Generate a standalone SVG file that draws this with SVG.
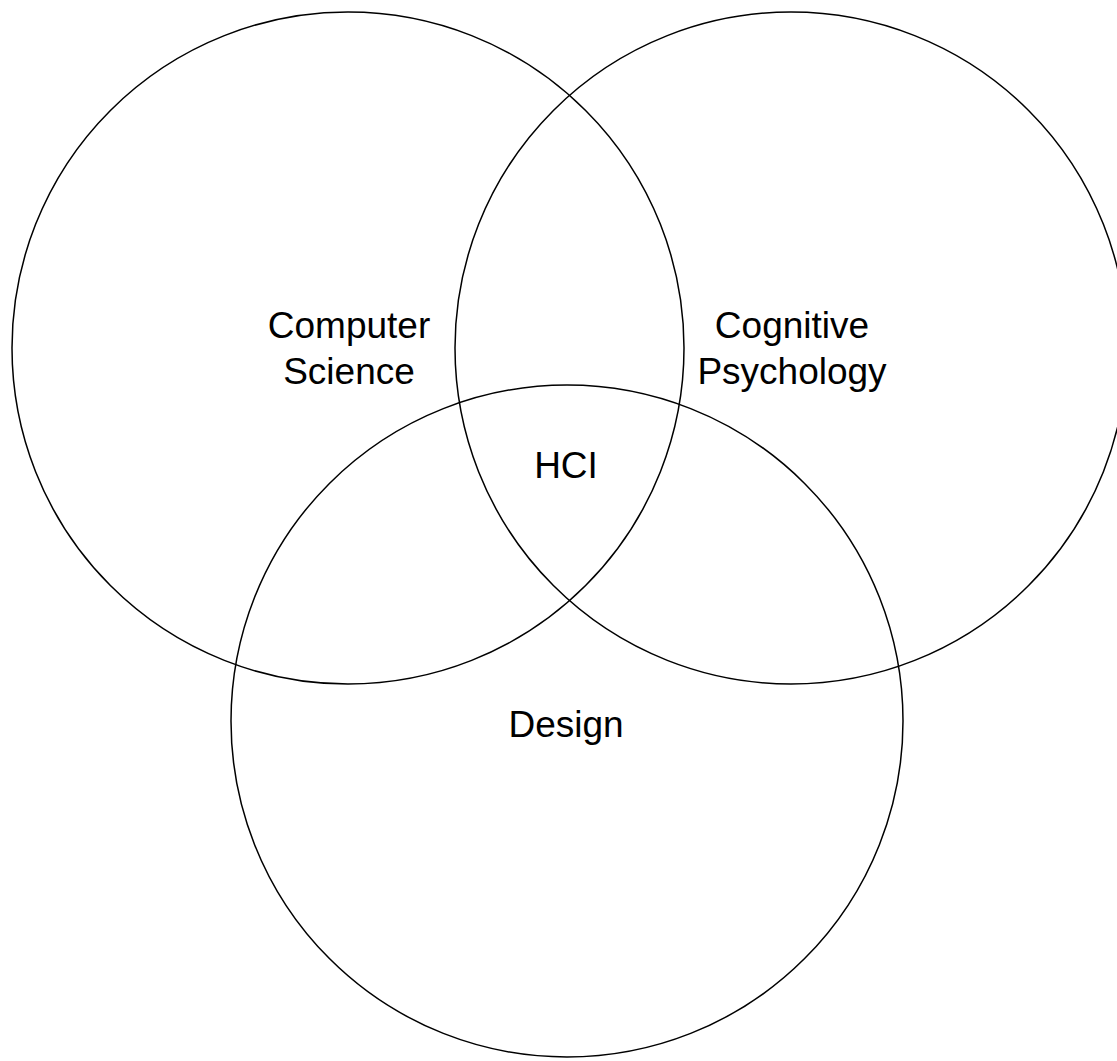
<svg xmlns="http://www.w3.org/2000/svg" width="1117" height="1061" viewBox="0 0 1117 1061">
<style>
.c{fill:none;stroke:#000;stroke-width:1.5}
.t{font-family:"Liberation Sans",Arial,sans-serif;font-size:37px;fill:#000;text-anchor:middle}
</style>
<rect width="1117" height="1061" fill="#fff"/>
<g id="computer-science">
<circle class="c" cx="348" cy="348" r="336"/>
<text class="t" x="349" y="338">Computer</text>
<text class="t" x="349" y="384">Science</text>
</g>
<g id="cognitive-psychology">
<circle class="c" cx="791" cy="348" r="336"/>
<text class="t" x="792" y="338">Cognitive</text>
<text class="t" x="792" y="384">Psychology</text>
</g>
<g id="design">
<circle class="c" cx="567" cy="721" r="336"/>
<text class="t" x="566" y="737">Design</text>
</g>
<g id="hci">
<text class="t" x="566" y="478">HCI</text>
</g>
<g id="connectors"></g>
</svg>
